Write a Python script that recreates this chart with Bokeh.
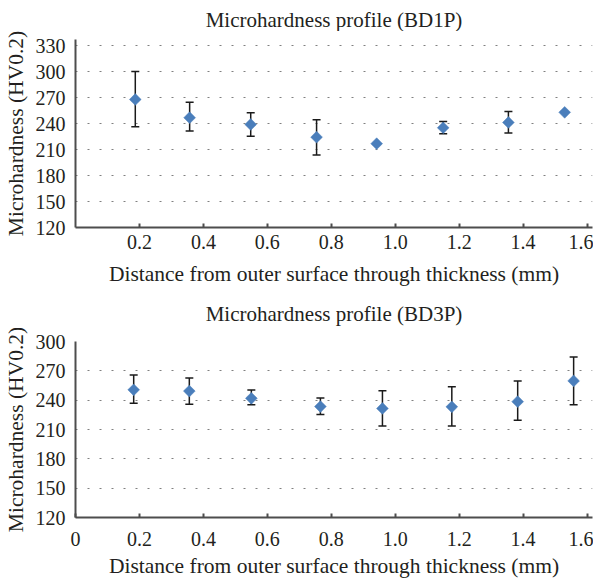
from bokeh.plotting import figure
from bokeh.models import ColumnDataSource, Whisker, TeeHead, FixedTicker, Range1d
from bokeh.core.properties import value
from bokeh.layouts import column
from bokeh.embed import file_html
from bokeh.resources import INLINE
import math

# ---- data ----
bd1p_x = [0.187, 0.357, 0.548, 0.754, 0.942, 1.150, 1.354, 1.530]
bd1p_y = [268.1, 247.0, 239.2, 224.5, 217.0, 235.4, 241.5, 253.2]
bd1p_upper = [300.4, 264.8, 252.8, 244.6, None, 242.7, 254.3, None]
bd1p_lower = [236.5, 231.5, 225.6, 204.0, None, 228.4, 229.2, None]

bd3p_x = [0.182, 0.356, 0.550, 0.766, 0.960, 1.177, 1.383, 1.558]
bd3p_y = [250.6, 249.3, 241.9, 233.5, 231.5, 233.2, 238.5, 259.7]
bd3p_upper = [265.7, 262.7, 250.3, 242.2, 249.6, 253.6, 259.7, 284.2]
bd3p_lower = [236.9, 235.8, 235.2, 225.4, 213.7, 213.7, 219.4, 235.2]

top_xticks = [0.2, 0.4, 0.6, 0.8, 1.0, 1.2, 1.4, 1.6]
bot_xticks = [0, 0.2, 0.4, 0.6, 0.8, 1.0, 1.2, 1.4, 1.6]
top_yticks = [120, 150, 180, 210, 240, 270, 300, 330]
bot_yticks = [120, 150, 180, 210, 240, 270, 300]

titles = ["Microhardness profile (BD1P)", "Microhardness profile (BD3P)"]

FONT = "Liberation Serif"
TXT = "#231f20"
BLUE = "#4a7ebb"
W = 593


def title_fig(text, height, bl, cy_from_top):
    t = figure(width=W, height=height, output_backend="svg", toolbar_location=None,
               x_range=Range1d(0, 1), y_range=Range1d(0, height),
               min_border_top=0, min_border_bottom=0, min_border_left=bl,
               min_border_right=1)
    t.axis.visible = False
    t.grid.visible = False
    t.outline_line_color = None
    t.border_fill_color = "white"
    t.background_fill_color = "white"
    t.text(x=[0.5], y=[height - cy_from_top], text=[text], text_align="center",
           text_baseline="middle", text_font=value(FONT), text_font_size=value("21px"),
           text_color=TXT)
    return t


def make(xs, ys, up, lo, xticks, yticks, ymax, height, bt, bb, bl, xl_stand, xa_stand):
    p = figure(width=W, height=height, output_backend="svg", toolbar_location=None,
               x_range=Range1d(0, 1.617), y_range=Range1d(120, ymax),
               min_border_top=bt, min_border_bottom=bb, min_border_left=bl,
               min_border_right=1)
    p.outline_line_color = None
    p.background_fill_color = "white"
    p.border_fill_color = "white"

    p.xaxis.ticker = FixedTicker(ticks=xticks)
    p.xaxis.major_label_overrides = {t: ("0" if t == 0 else f"{t:.1f}") for t in xticks}
    p.yaxis.ticker = FixedTicker(ticks=yticks)
    for ax in (p.xaxis, p.yaxis):
        ax.axis_line_color = "#4d4d4d"
        ax.axis_line_width = 2
        ax.major_label_text_font = FONT
        ax.major_label_text_font_size = "20px"
        ax.major_label_text_color = TXT
        ax.axis_label_text_font = FONT
        ax.axis_label_text_font_size = "21.5px"
        ax.axis_label_text_font_style = "normal"
        ax.axis_label_text_color = TXT
        ax.minor_tick_line_color = None
    p.xaxis.major_tick_in = 4
    p.xaxis.major_tick_out = 0
    p.xaxis.major_tick_line_color = "#4d4d4d"
    p.xaxis.major_tick_line_width = 2
    p.yaxis.major_tick_line_color = None
    p.yaxis.major_tick_in = 0
    p.yaxis.major_tick_out = 0
    p.xaxis.major_label_standoff = xl_stand
    p.yaxis.major_label_standoff = 10
    p.xaxis.axis_label = "Distance from outer surface through thickness (mm)"
    p.yaxis.axis_label = "Microhardness (HV0.2)"
    p.xaxis.axis_label_standoff = xa_stand
    p.yaxis.axis_label_standoff = 5

    p.xgrid.grid_line_color = None
    p.ygrid.ticker = FixedTicker(ticks=[t for t in yticks if t > 120])
    p.ygrid.grid_line_color = "#808080"
    p.ygrid.grid_line_dash = "2 10"
    p.ygrid.grid_line_width = 1.2

    keep = [i for i in range(len(xs)) if up[i] is not None]
    esrc = ColumnDataSource(dict(x=[xs[i] for i in keep],
                                 upper=[up[i] for i in keep],
                                 lower=[lo[i] for i in keep]))
    w = Whisker(base="x", upper="upper", lower="lower", source=esrc, dimension="height",
                line_color="#1a1a1a", line_width=1.5,
                upper_head=TeeHead(size=8, line_color="#1a1a1a", line_width=1.5),
                lower_head=TeeHead(size=8, line_color="#1a1a1a", line_width=1.5))
    p.add_layout(w)

    src = ColumnDataSource(dict(x=xs, y=ys))
    p.scatter("x", "y", source=src, marker="square", angle=math.pi / 4, size=8.3,
              fill_color=BLUE, line_color=BLUE, line_width=0.5)
    return p


t1 = title_fig(titles[0], 31, 73, 19)
p1 = make(bd1p_x, bd1p_y, bd1p_upper, bd1p_lower,
          top_xticks, top_yticks, 337.5, 267, 8, 71, 73, 7, 10)
t2 = title_fig(titles[1], 30, 71, 15)
p2 = make(bd3p_x, bd3p_y, bd3p_upper, bd3p_lower,
          bot_xticks, bot_yticks, 300, 252, 13, 61, 71, 14, 5)

layout = column(t1, p1, t2, p2, spacing=0)
open("out.html", "w").write(file_html(layout, INLINE))
